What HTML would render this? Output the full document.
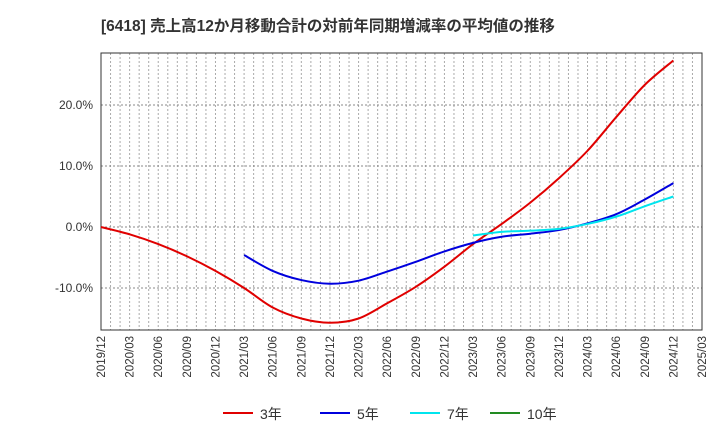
<!DOCTYPE html>
<html><head><meta charset="utf-8"><style>
body{margin:0;background:#fff;font-family:"Liberation Sans","Noto Sans CJK JP",sans-serif}
</style></head><body>
<svg id="c" width="720" height="440" xmlns="http://www.w3.org/2000/svg">
<text x="101" y="31" font-size="15.5" font-weight="bold" fill="#333">[6418]  売上高12か月移動合計の対前年同期増減率の平均値の推移</text>
<g id="grid"></g><g id="axes"></g><g id="series"></g><g id="legend"></g>
</svg>
<script>
const xLabels=["2019/12","2020/03","2020/06","2020/09","2020/12","2021/03","2021/06","2021/09","2021/12","2022/03","2022/06","2022/09","2022/12","2023/03","2023/06","2023/09","2023/12","2024/03","2024/06","2024/09","2024/12","2025/03"];
const yTicks=[-10,0,10,20];
const s3=[0,-1.2,-2.8,-4.8,-7.2,-10,-13.2,-15,-15.7,-15,-12.5,-9.8,-6.5,-2.8,0.5,4,8,12.5,18,23.3,27.3];
const s3Start=0;
const s5=[-4.6,-7.2,-8.7,-9.3,-8.8,-7.3,-5.7,-4.0,-2.6,-1.6,-1.1,-0.5,0.6,2.1,4.5,7.2];
const s5Start=5;
const s7=[-1.4,-0.8,-0.6,-0.3,0.5,1.7,3.4,5.0];
const s7Start=13;
const L=101,R=702,T=53,B=330;
const NS="http://www.w3.org/2000/svg";
const X=i=>L+(R-L)*i/21;
const Y=v=>227-v*6.1;
function mk(p,t,a){const e=document.createElementNS(NS,t);for(const k in a)e.setAttribute(k,a[k]);p.appendChild(e);return e;}
const g=document.getElementById('grid'),ax=document.getElementById('axes'),se=document.getElementById('series'),lg=document.getElementById('legend');
for(let m=1;m<63;m++){const x=L+(R-L)*m/63;const e=mk(g,'line',{x1:x,x2:x,y1:T,y2:B,stroke:'#aaa','stroke-dasharray':'2,2','stroke-width':1});

}
yTicks.forEach(v=>{const y=Y(v);const e=mk(g,'line',{x1:L,x2:R,y1:y,y2:y,stroke:'#888','stroke-dasharray':'2,2','stroke-width':1});

});
const fr=mk(ax,'rect',{x:L,y:T,width:R-L,height:B-T,fill:'none',stroke:'#333','stroke-width':1});


yTicks.forEach(v=>{const t=mk(ax,'text',{x:L-8,y:Y(v)+4,'text-anchor':'end','font-size':12,fill:'#333'});t.textContent=v.toFixed(1)+'%';

});
xLabels.forEach((l,i)=>{const x=X(i)+4,y=B+6;const t=mk(ax,'text',{x:x,y:y,'text-anchor':'end','font-size':11.5,fill:'#333',transform:`rotate(-90 ${x} ${y})`});t.textContent=l;

});
function path(d,st){const p=d.map((v,i)=>[X(st+i),Y(v)]);let s=`M${p[0][0]},${p[0][1]}`;
for(let i=0;i<p.length-1;i++){const p0=p[i-1]||p[i],p1=p[i],p2=p[i+1],p3=p[i+2]||p2;
s+=` C${p1[0]+(p2[0]-p0[0])/6},${p1[1]+(p2[1]-p0[1])/6} ${p2[0]-(p3[0]-p1[0])/6},${p2[1]-(p3[1]-p1[1])/6} ${p2[0]},${p2[1]}`;}return s;}
[[s3,s3Start,'#e00000','series-3y'],[s5,s5Start,'#0000dd','series-5y'],[s7,s7Start,'#00e5ee','series-7y']].forEach(([d,st,c,n])=>{
const e=mk(se,'path',{d:path(d,st),fill:'none',stroke:c,'stroke-width':2});

});
[['3年','#e00000',223],['5年','#0000dd',320],['7年','#00e5ee',410],['10年','#228b22',490]].forEach(([l,c,x])=>{
const gg=mk(lg,'g',{});


mk(gg,'line',{x1:x,x2:x+30,y1:413,y2:413,stroke:c,'stroke-width':2});
const t=mk(gg,'text',{x:x+37,y:419,'font-size':14,fill:'#333'});t.textContent=l;});
</script>
</body></html>
